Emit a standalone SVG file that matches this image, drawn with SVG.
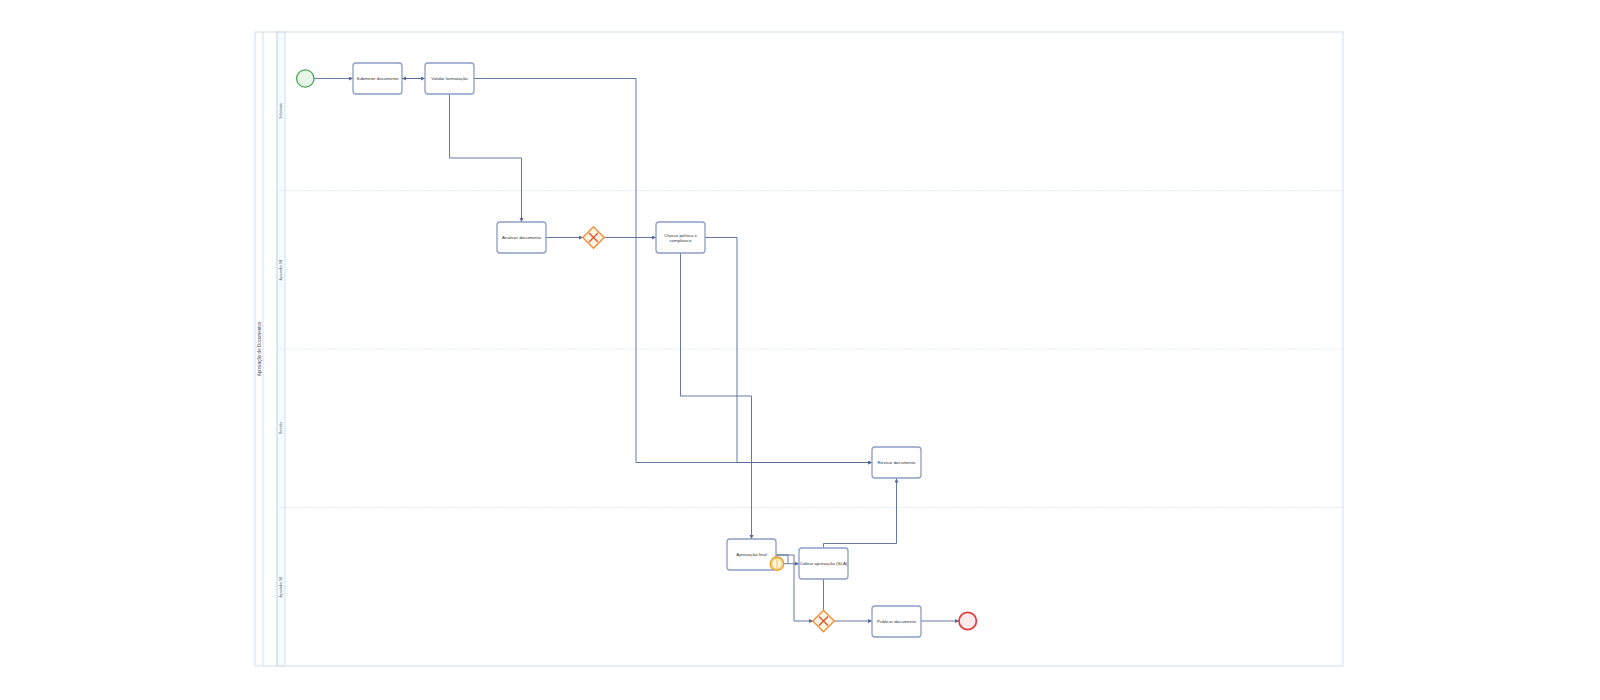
<svg xmlns="http://www.w3.org/2000/svg" width="1600" height="700" viewBox="0 0 1600 700">
<defs>
<marker id="arr" markerUnits="userSpaceOnUse" markerWidth="5" markerHeight="5" refX="4" refY="2" orient="auto">
<path d="M0,0 L4,2 L0,4 Z" fill="#56699a"/>
</marker>
<style>
.pool{fill:none;stroke:#cfe0ec;stroke-width:1}
.band{fill:#f6fbfd;stroke:#cfe0ec;stroke-width:1}
.lane{stroke:#d8e6f0;stroke-width:0.8;stroke-dasharray:2 1}
.task rect{fill:#fff;stroke:#8c9ec6;stroke-width:1.3}
.t{font-family:"Liberation Sans",Arial,sans-serif;font-size:4.4px;fill:#333;text-anchor:middle}
.lbl{font-family:"Liberation Sans",Arial,sans-serif;font-size:3.4px;fill:#556;text-anchor:middle}
.plbl{font-family:"Liberation Sans",Arial,sans-serif;font-size:4.5px;fill:#445;text-anchor:middle}
.c{fill:none;stroke:#56699a;stroke-width:0.9}
.gw{fill:#fff3e3;stroke:#f0903a;stroke-width:1.4}
.gx{stroke:#e0502a;stroke-width:1.3}
</style>
</defs>
<rect width="1600" height="700" fill="#fff"/>
<g id="pool">
<rect class="band" x="277" y="32" width="8" height="634"/>
<rect class="pool" x="255" y="32" width="1088" height="634"/>
<line class="pool" x1="263" y1="32" x2="263" y2="666"/>
<line class="pool" x1="277" y1="32" x2="277" y2="666"/>
<line class="lane" x1="277" y1="190.5" x2="1343" y2="190.5"/>
<line class="lane" x1="277" y1="349" x2="1343" y2="349"/>
<line class="lane" x1="277" y1="507.5" x2="1343" y2="507.5"/>
<text class="plbl" transform="translate(260.5,349) rotate(-90)">Aprovação de Documentos</text>
<text class="lbl" transform="translate(282,111) rotate(-90)">Solicitante</text>
<text class="lbl" transform="translate(282,270) rotate(-90)">Aprovador N1</text>
<text class="lbl" transform="translate(282,428) rotate(-90)">Revisão</text>
<text class="lbl" transform="translate(282,587) rotate(-90)">Aprovador N2</text>
</g>
<g id="connectors">
<path class="c" d="M314,78.5 H353" marker-end="url(#arr)"/>
<path class="c" d="M402,78.5 H425" marker-end="url(#arr)"/>
<path class="c" d="M425,78.5 H402" marker-end="url(#arr)"/>
<path class="c" d="M474,78.5 H636 V462.5 H872" marker-end="url(#arr)"/>
<path class="c" d="M449.5,94 V158 H521.5 V222" marker-end="url(#arr)"/>
<path class="c" d="M546,237.5 H583" marker-end="url(#arr)"/>
<path class="c" d="M604,237.5 H656" marker-end="url(#arr)"/>
<path class="c" d="M705,237.5 H737 V462.5 H872" marker-end="url(#arr)"/>
<path class="c" d="M680.5,253 V396 H751.5 V539" marker-end="url(#arr)"/>
<path class="c" d="M823.5,548 V543.5 H896.5 V478.5" marker-end="url(#arr)"/>
<path class="c" d="M776,555 H794 V621 H813" marker-end="url(#arr)"/>
<path class="c" d="M776,555 H788 V563.7"/>
<path class="c" d="M784,563.7 H799" marker-end="url(#arr)"/>
<path class="c" d="M823.5,579 V610.3"/>
<path class="c" d="M834.2,621 H872" marker-end="url(#arr)"/>
<path class="c" d="M920,621 H959" marker-end="url(#arr)"/>
</g>
<g id="start">
<circle cx="305.3" cy="78.5" r="8.7" fill="#e6f7ea" stroke="#43a84d" stroke-width="1.3"/>
</g>
<g id="submeter" class="task">
<rect x="353" y="63" width="49" height="31" rx="3"/>
<text class="t" x="377.5" y="80">Submeter documento</text>
</g>
<g id="validar" class="task">
<rect x="425" y="63" width="49" height="31" rx="3"/>
<text class="t" x="449.5" y="80">Validar formatação</text>
</g>
<g id="analisar" class="task">
<rect x="497" y="222" width="49" height="31" rx="3"/>
<text class="t" x="521.5" y="239">Analisar documento</text>
</g>
<g id="gw1">
<path class="gw" d="M593.5,226.8 L604.2,237.5 L593.5,248.2 L582.8,237.5 Z"/>
<path class="gx" d="M589,233 L598,242 M598,233 L589,242"/>
</g>
<g id="checar" class="task">
<rect x="656" y="222" width="49" height="31" rx="3"/>
<text class="t" x="680.5" y="236.5">Checar política e</text>
<text class="t" x="680.5" y="241.5">compliance</text>
</g>
<g id="revisar" class="task">
<rect x="872" y="447" width="49" height="31" rx="3"/>
<text class="t" x="896.5" y="464">Revisar documento</text>
</g>
<g id="aprovacao" class="task">
<rect x="727" y="539" width="49" height="31" rx="3"/>
<text class="t" x="751.5" y="556">Aprovação final</text>
</g>
<g id="timer">
<circle cx="777" cy="563.7" r="6.7" fill="#fff6d8" stroke="#e0a020" stroke-width="1.3"/>
<circle cx="777" cy="563.7" r="5.2" fill="none" stroke="#e0a020" stroke-width="0.6"/>
<line x1="777" y1="559.5" x2="777" y2="568" stroke="#e0a020" stroke-width="0.6"/>
</g>
<g id="cobrar" class="task">
<rect x="799" y="548" width="49" height="31" rx="3"/>
<text class="t" x="823.5" y="565">Cobrar aprovação (SLA)</text>
</g>
<g id="gw2">
<path class="gw" d="M823.5,610.3 L834.2,621 L823.5,631.7 L812.8,621 Z"/>
<path class="gx" d="M819,616.5 L828,625.5 M828,616.5 L819,625.5"/>
</g>
<g id="publicar" class="task">
<rect x="872" y="606" width="49" height="31" rx="3"/>
<text class="t" x="896.5" y="623">Publicar documento</text>
</g>
<g id="end">
<circle cx="967.7" cy="621" r="8.7" fill="#fde9e9" stroke="#e03a3a" stroke-width="1.7"/>
</g>
</svg>
